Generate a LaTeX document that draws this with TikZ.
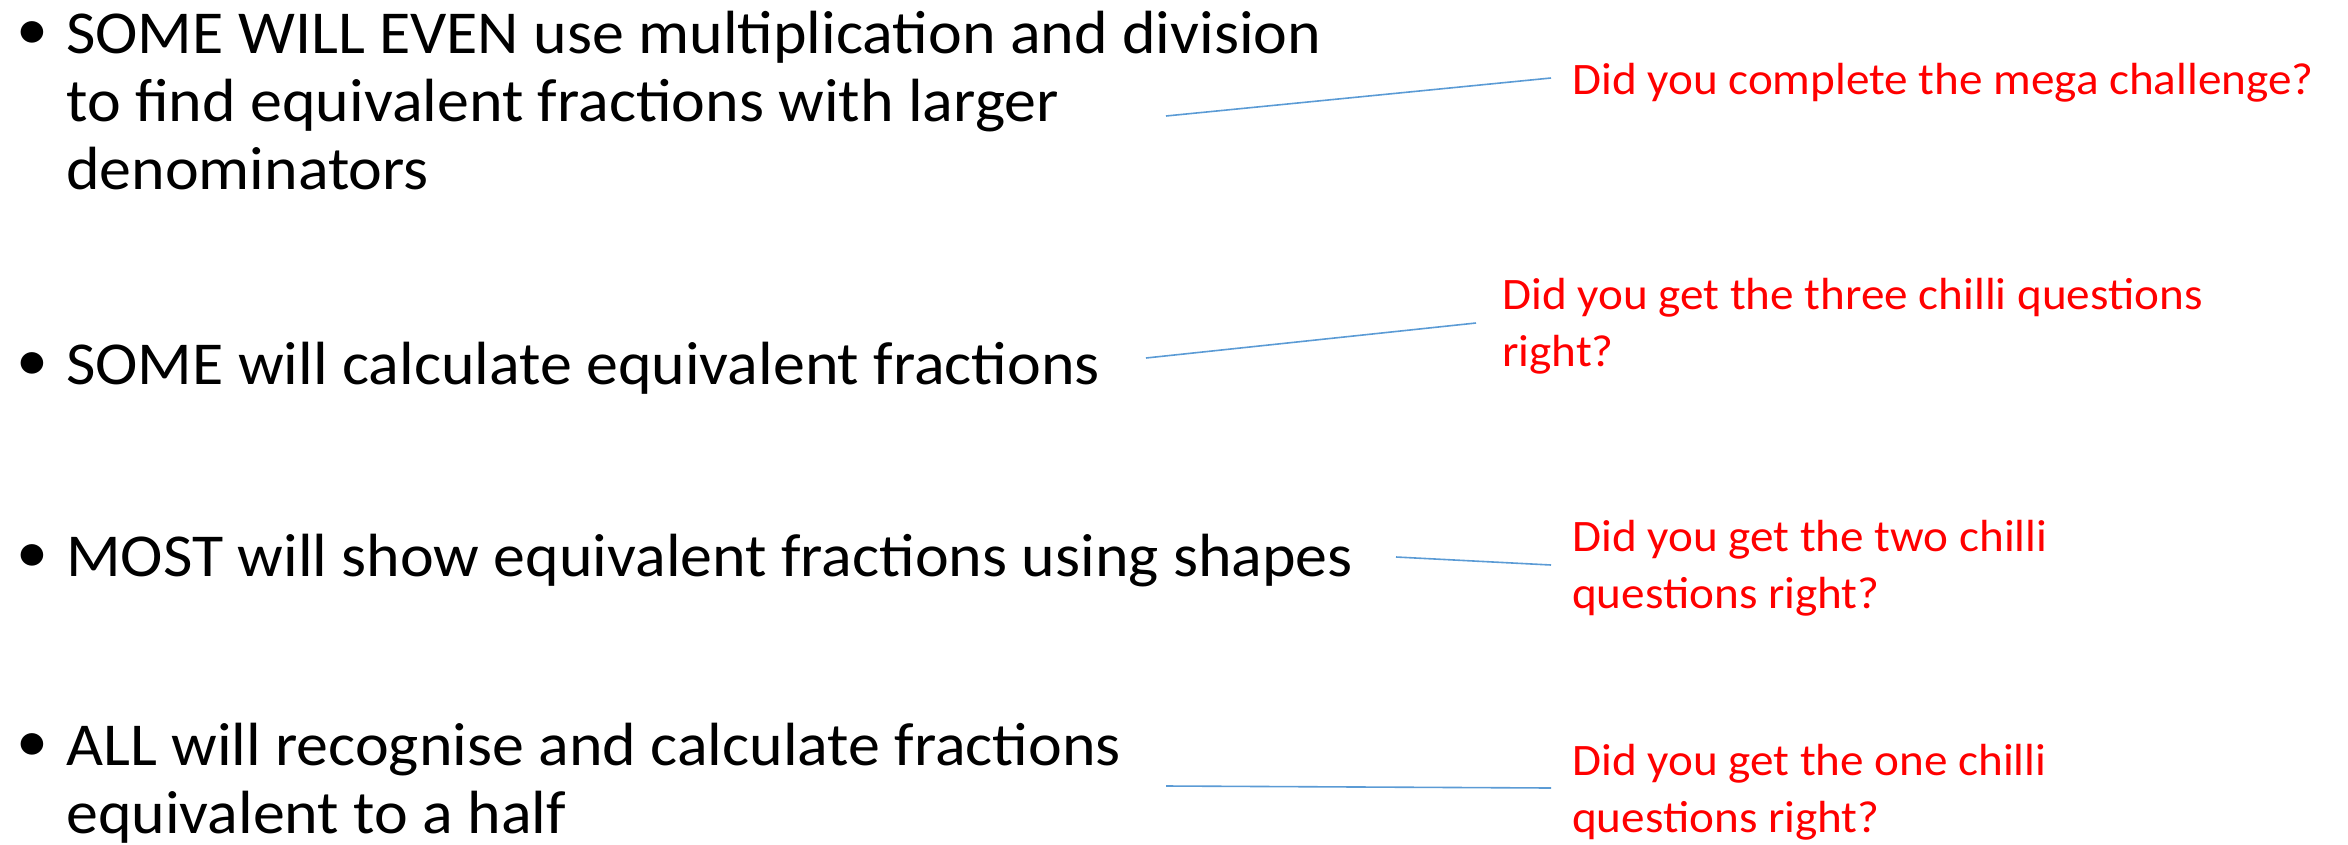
\documentclass[tikz,border=0pt]{standalone}
\usepackage{fontspec}
\setmainfont{Carlito}[FakeStretch=1.048]
\definecolor{connblue}{HTML}{5B9BD5}
\definecolor{notered}{HTML}{FF0000}
\begin{document}
\begin{tikzpicture}[x=1pt,y=-1pt,
  item/.style={anchor=base west, inner sep=0pt, font=\fontsize{61}{68}\selectfont},
  note/.style={anchor=base west, inner sep=0pt, text=notered, font=\fontsize{45}{57.5}\selectfont},
  conn/.style={draw=connblue, line width=1.6pt}]
\useasboundingbox (0,0) rectangle (2348,844);
\newcommand{\bul}{\raisebox{4pt}{\textbullet}}
% bullet items
\node[item] (i1) at (16,53) {\begin{tabular}[t]{@{}p{50pt}@{}l@{}}\bul & SOME WILL EVEN use multiplication and division\\ & to find equivalent fractions with larger\\ & denominators\end{tabular}};
\node[item] (i2) at (16,384) {\begin{tabular}[t]{@{}p{50pt}@{}l@{}}\bul & SOME will calculate equivalent fractions\end{tabular}};
\node[item] (i3) at (16,576) {\begin{tabular}[t]{@{}p{50pt}@{}l@{}}\bul & MOST will show equivalent fractions using shapes\end{tabular}};
\node[item] (i4) at (16,765) {\begin{tabular}[t]{@{}p{50pt}@{}l@{}}\bul & ALL will recognise and calculate fractions\\ & equivalent to a half\end{tabular}};
% notes
\node[note] (n1) at (1572,94) {Did you complete the mega challenge?};
\node[note] (n2) at (1502,309) {\begin{tabular}[t]{@{}l@{}}Did you get the three chilli questions\\ right?\end{tabular}};
\node[note] (n3) at (1572,551) {\begin{tabular}[t]{@{}l@{}}Did you get the two chilli\\ questions right?\end{tabular}};
\node[note] (n4) at (1572,775) {\begin{tabular}[t]{@{}l@{}}Did you get the one chilli\\ questions right?\end{tabular}};
% connector ends
\coordinate (a1) at (1166,116);
\coordinate (b1) at (1551,78);
\coordinate (a2) at (1146,358);
\coordinate (b2) at (1476,323);
\coordinate (a3) at (1396,557);
\coordinate (b3) at (1551,565);
\coordinate (a4) at (1166,786);
\coordinate (b4) at (1551,788);
\draw[conn] (a1) -- (b1);
\draw[conn] (a2) -- (b2);
\draw[conn] (a3) -- (b3);
\draw[conn] (a4) -- (b4);
\end{tikzpicture}
\end{document}
